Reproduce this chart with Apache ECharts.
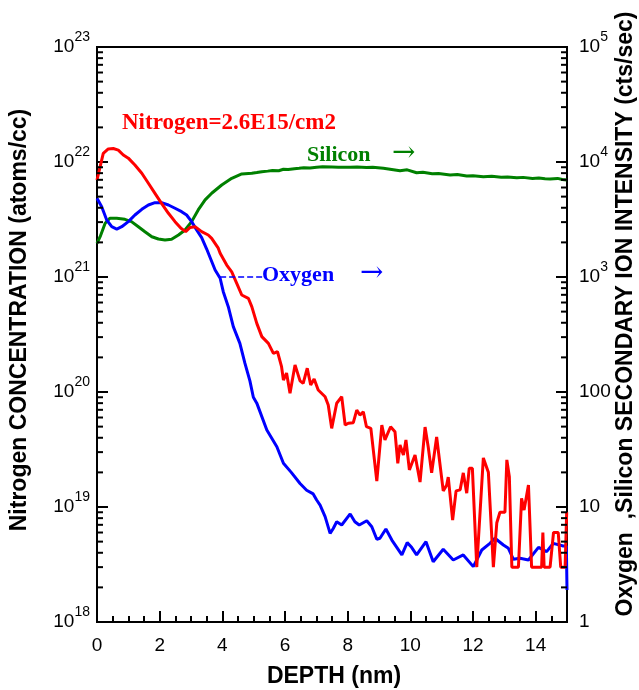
<!DOCTYPE html>
<html><head><meta charset="utf-8">
<script src="https://cdn.jsdelivr.net/npm/echarts@6/dist/echarts.min.js"></script>
<style>html,body{margin:0;padding:0;background:#fff}#c{width:639px;height:690px}</style>
</head><body><div id="c"></div>
<script>
// ---- data ----
const depthN = [0,0.1,0.2,0.36,0.52,0.68,0.84,1.0,1.21,1.43, 1.64,1.85,2.06,2.28,2.49,2.68,2.83,2.97,3.13,3.34, 3.55,3.66,3.87,3.93,4.14,4.30,4.46,4.62,4.83,4.94, 5.10,5.26,5.47,5.63,5.76,5.89,5.95,6.05,6.16,6.32, 6.48,6.58,6.71,6.82,6.93,7.06,7.28,7.38,7.49,7.65, 7.81,7.92,8.02,8.18,8.29,8.39,8.50,8.60,8.74,8.93, 9.09,9.19,9.37,9.51,9.60,9.67,9.78,9.86,9.97,10.15, 10.31,10.47,10.57,10.68,10.84,11.05,11.16,11.21,11.35,11.46, 11.59,11.69,11.80,11.88,11.98,12.12,12.33,12.49,12.65,12.76, 12.86,13.02,13.08,13.16,13.24,13.45,13.55,13.63,13.77,13.87, 14.19,14.23,14.27,14.46,14.57,14.72,14.80,14.94,14.99];
const nitrogen = [6.97e21,9.1e21,1.19e22,1.30e22,1.31e22,1.27e22,1.15e22,1.08e22,9.4e21,7.98e21, 6.53e21,5.34e21,4.37e21,3.58e21,3.03e21,2.65e21,2.48e21,2.70e21,2.74e21,2.48e21, 2.32e21,2.17e21,1.78e21,1.61e21,1.27e21,1.11e21,8.8e20,6.97e20,6.53e20,5.52e20, 3.95e20,3.03e20,2.65e20,2.17e20,2.24e20,1.66e20,1.27e20,1.46e20,9.75e19,1.72e20, 1.25e20,1.19e20,1.61e20,1.15e20,1.30e20,1.04e20,9.1e19,7.7e19,4.83e19,7.98e19, 9.1e19,5.16e19,5.35e19,5.41e19,6.97e19,6.3e19,6.74e19,4.99e19,4.83e19,1.68e19, 5.16e19,3.83e19,4.99e19,4.52e19,2.40e19,3.46e19,2.83e19,3.83e19,2.10e19,2.83e19, 1.65e19,4.96e19,3.34e19,1.98e19,4.06e19,1.38e19,1.55e19,1.82e19,7.7e18,1.38e19, 1.41e19,1.98e19,1.32e19,2.17e19,2.17e19,3e18,2.67e19,2.01e19,3e18,7.3e18, 9e18,9e18,2.57e19,1.83e19,3e18,3e18,1.19e19,9.4e18,1.55e19,3e18, 3e18,6e18,3e18,3e18,6e18,6e18,3e18,3e18,9e18];

const depthO = [0,0.15,0.31,0.47,0.63,0.79,1.0,1.21,1.43,1.64, 1.85,2.06,2.28,2.49,2.70,2.86,3.02,3.18,3.34,3.5, 3.77,3.93,4.03,4.19,4.35,4.56,4.72,4.88,4.99,5.10, 5.42,5.74,5.95,6.2,6.48,6.69,6.9,7.01,7.12,7.28, 7.44,7.54,7.65,7.81,8.08,8.23,8.37,8.61,8.77,8.93, 9.03,9.22,9.41,9.73,9.9,10.04,10.2,10.5,10.73,11.05, 11.37,11.69,12.01,12.28,12.54,12.7,12.97,13.13,13.29,13.5, 13.77,14.09,14.35,14.56,14.88,14.98,15];
const oxygen = [4830,4085,3130,2738,2612,2738,3030,3460,3880,4230, 4430,4430,4230,3960,3700,3460,3030,2564,2200,1750, 1151,975,745,552,370,265,178,125,90,80, 46.7,33.4,24,20,16,14,13,11.5,10.4,8.24, 5.9,6.5,7.45,6.97,8.7,7.45,6.97,7.6,6.74,5.24, 5.35,6.44,5.16,3.83,4.9,4.46,3.83,4.99,3.34,4.29, 3.46,3.83,3.03,4.23,4.83,5.35,4.67,4.37,3.51,3.58, 3.46,4.46,4.09,4.83,4.58,4.58,1.9];

const depthSi = [0,0.1,0.26,0.41,0.63,0.89,1.1,1.32,1.53,1.75, 1.96,2.17,2.38,2.6,2.81,3.02,3.23,3.45,3.66,3.98, 4.3,4.62,4.94,5.1,5.26,5.45,5.6,5.8,5.95,6.1, 6.3,6.45,6.6,6.8,7.01,7.2,7.5,7.7,8.08,8.3, 8.6,8.8,9.14,9.3,9.67,9.9,10.2,10.4,10.7,10.9, 11.27,11.5,11.8,12.0,12.33,12.6,12.9,13.1,13.4,13.6, 13.9,14.1,14.3,14.46,14.7,14.85,14.99];
const silicon = [1960,2240,2930,3240,3240,3175,3030,2735,2476,2240, 2140,2098,2127,2317,2564,3030,3830,4680,5350,6310, 7210,7870,7980,8100,8240,8330,8450,8400,8650,8600, 8750,8820,8900,8850,9000,9080,9050,9000,9000,9050, 8950,8990,8810,8700,8400,8550,8070,8150,7900,7950, 7710,7800,7550,7600,7450,7500,7380,7420,7300,7350, 7200,7250,7150,7110,7200,7050,6970];

const xTicks = [0,2,4,6,8,10,12,14];
const leftDecades = [18,19,20,21,22];     // 10^n .. minor ticks within
const rightDecades = [0,1,2,3,4];
const minorMult = [2,3,4,5,6,7,8,9];

const texts = {
  xTitle: 'DEPTH (nm)',
  yLeft: 'Nitrogen CONCENTRATION (atoms/cc)',
  yRight: 'Oxygen  ,Silicon SECONDARY ION INTENSITY (cts/sec)',
  nLabel: 'Nitrogen=2.6E15/cm2',
  siLabel: 'Silicon',
  oLabel: 'Oxygen',
  arrow: '\u2192'
};

// ---- build ----
const zip = (a, b) => a.map((v, i) => [v, b[i]]);
const SANS = 'Liberation Sans', SERIF = 'Liberation Serif';
const leftMinor = [], rightMinor = [];
leftDecades.forEach(n => minorMult.forEach(m => leftMinor.push(m * Math.pow(10, n))));
rightDecades.forEach(n => minorMult.forEach(m => rightMinor.push(m * Math.pow(10, n))));

const rich = {
  b: {fontSize: 19, fontFamily: SANS, color: '#000'},
  s: {fontSize: 14, fontFamily: SANS, color: '#000', padding: [0, 0, 20, 0]}
};
const expOf = v => Math.round(Math.log10(v));

function minorSeries(vals, yIdx, xVal, dir) {
  return {
    type: 'custom', yAxisIndex: yIdx, silent: true, z: 5,
    data: vals.map(v => [xVal, v]),
    renderItem: (p, api) => {
      const pt = api.coord([api.value(0), api.value(1)]);
      return {type: 'line', shape: {x1: pt[0], y1: pt[1], x2: pt[0] + dir * 6, y2: pt[1]},
        style: {stroke: '#000', lineWidth: 2}};
    }
  };
}

const chart = echarts.init(document.getElementById('c'), null, {renderer: 'canvas'});
chart.setOption({
  animation: false,
  backgroundColor: '#fff',
  grid: {left: 97, right: 72, top: 47, bottom: 68, show: true, borderColor: '#000', borderWidth: 2, containLabel: false},
  xAxis: {
    type: 'value', min: 0, max: 15, interval: 2,
    axisLine: {show: true, onZero: false, lineStyle: {color: '#000', width: 2}},
    axisTick: {show: true, inside: true, length: 11, lineStyle: {color: '#000', width: 2}},
    minorTick: {show: true, splitNumber: 4, length: 6, lineStyle: {color: '#000', width: 2}},
    splitLine: {show: false},
    axisLabel: {margin: 14, fontSize: 19, fontFamily: SANS, color: '#000',
      formatter: v => xTicks.indexOf(v) >= 0 ? String(v) : ''}
  },
  yAxis: [{
    type: 'log', logBase: 10, min: 1e18, max: 1e23, splitNumber: 5,
    axisLine: {show: true, lineStyle: {color: '#000', width: 2}},
    axisTick: {show: true, inside: true, length: 11, lineStyle: {color: '#000', width: 2}},
    splitLine: {show: false},
    axisLabel: {margin: 7, rich: rich, formatter: v => '{b|10}{s|' + expOf(v) + '}'}
  }, {
    type: 'log', logBase: 10, min: 1, max: 1e5, splitNumber: 5, position: 'right',
    axisLine: {show: true, lineStyle: {color: '#000', width: 2}},
    axisTick: {show: true, inside: true, length: 11, lineStyle: {color: '#000', width: 2}},
    splitLine: {show: false},
    axisLabel: {margin: 12, rich: rich, formatter: v => {
      const e = expOf(v);
      return e >= 3 ? '{b|10}{s|' + e + '}' : '{b|' + Math.pow(10, e) + '}';
    }}
  }],
  series: [
    minorSeries(leftMinor, 0, 0, 1),
    minorSeries(rightMinor, 1, 15, -1),
    {name: 'Silicon', type: 'line', yAxisIndex: 1, data: zip(depthSi, silicon), showSymbol: false,
      lineStyle: {color: '#008000', width: 3}, itemStyle: {color: '#008000'}, z: 2},
    {name: 'Oxygen', type: 'line', yAxisIndex: 1, data: zip(depthO, oxygen), showSymbol: false,
      lineStyle: {color: '#0000ff', width: 3}, itemStyle: {color: '#0000ff'}, z: 3,
      markLine: {silent: true, symbol: 'none', label: {show: false},
        lineStyle: {color: '#0000ff', type: [6, 3], width: 1.5},
        data: [[{coord: [3.93, 1000]}, {coord: [5.27, 1000]}]]}},
    {name: 'Nitrogen', type: 'line', yAxisIndex: 0, data: zip(depthN, nitrogen), showSymbol: false,
      lineStyle: {color: '#ff0000', width: 3}, itemStyle: {color: '#ff0000'}, z: 4}
  ],
  graphic: [
    {type: 'text', x: 334, y: 677, style: {text: texts.xTitle, font: 'bold 23px "Liberation Sans"', fill: '#000', align: 'center', verticalAlign: 'middle'}},
    {type: 'text', x: 20, y: 320, rotation: Math.PI / 2, style: {text: texts.yLeft, font: 'bold 23px "Liberation Sans"', fill: '#000', align: 'center', verticalAlign: 'middle'}},
    {type: 'text', x: 626, y: 314, rotation: Math.PI / 2, style: {text: texts.yRight, font: 'bold 23px "Liberation Sans"', fill: '#000', align: 'center', verticalAlign: 'middle'}},
    {type: 'text', x: 122, y: 123, style: {text: texts.nLabel, font: 'bold 23px "Liberation Serif"', fill: '#ff0000', align: 'left', verticalAlign: 'middle'}},
    {type: 'text', x: 307, y: 155, style: {text: texts.siLabel, font: 'bold 22px "Liberation Serif"', fill: '#008000', align: 'left', verticalAlign: 'middle'}},
    {type: 'text', x: 392, y: 154, style: {text: texts.arrow, font: '28px "DejaVu Serif"', fill: '#008000', align: 'left', verticalAlign: 'middle'}},
    {type: 'text', x: 262, y: 275, style: {text: texts.oLabel, font: 'bold 22px "Liberation Serif"', fill: '#0000ff', align: 'left', verticalAlign: 'middle'}},
    {type: 'text', x: 360, y: 274, style: {text: texts.arrow, font: '28px "DejaVu Serif"', fill: '#0000ff', align: 'left', verticalAlign: 'middle'}}
  ]
});
</script></body></html>
